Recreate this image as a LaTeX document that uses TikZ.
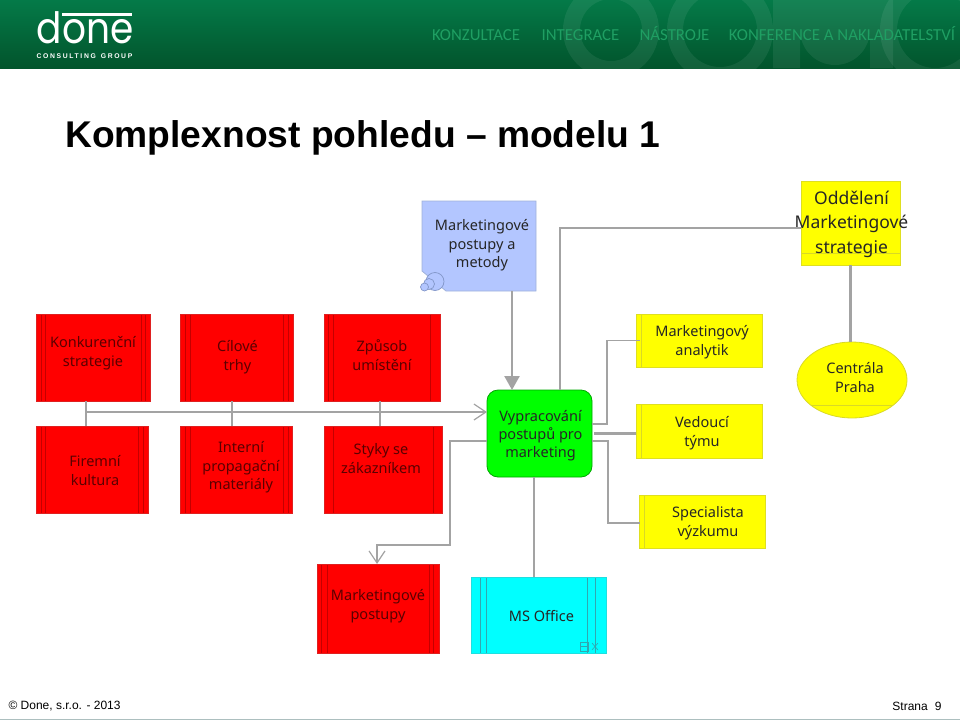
\documentclass[tikz,border=0pt]{standalone}
\usepackage{fontspec}
\setmainfont{Liberation Sans}
\newfontfamily\boxfont{Noto Sans}
\newfontfamily\navfont{Carlito}
\newfontfamily\logofont{Poppins}
\newfontfamily\claimfont[LetterSpace=24]{Liberation Sans}
\usetikzlibrary{arrows.meta,shapes.geometric}

\definecolor{linegrey}{HTML}{A3A3A3}
\definecolor{redline}{HTML}{C40000}
\definecolor{redtext}{HTML}{5A0000}
\definecolor{navgreen}{HTML}{1F9F63}
\definecolor{officecyan}{HTML}{00FFFF}
\definecolor{officeline}{HTML}{30A8B0}
\definecolor{puregreen}{HTML}{00FF00}
\definecolor{pureyellow}{HTML}{FFFF00}
\definecolor{methodblue}{HTML}{B3C6FF}
\definecolor{methodline}{HTML}{A0B2DA}
\definecolor{bubbleline}{HTML}{8296C8}

% text of a box, moved away from the middle of the box
\newcommand{\shifted}[3]{\raisebox{\dimexpr#2pt-5.5pt\relax}[0pt][0pt]{\makebox[0pt]{\hspace*{#1pt}\hspace*{#1pt}\begin{tabular}{@{}c@{}}#3\end{tabular}}}}

\tikzset{
	bars/.style n args={3}{path picture={
		\foreach \d in {#2} \draw [#1] ([xshift=\d]path picture bounding box.north west) -- ([xshift=\d]path picture bounding box.south west);
		\foreach \d in {#3} \draw [#1] ([xshift=-\d]path picture bounding box.north east) -- ([xshift=-\d]path picture bounding box.south east);
	}},
	leftbar/.style={path picture={
		\draw [#1] ([xshift=5]path picture bounding box.north west) -- ([xshift=5]path picture bounding box.south west);
	}},
	lowline/.style 2 args={path picture={
		\draw [#1] ([yshift=#2]path picture bounding box.south west) -- ([yshift=#2]path picture bounding box.south east);
	}}
}

\begin{document}
\begin{tikzpicture}[x=1pt,y=-1pt,>=Stealth]
		\tikzstyle{box}=[rectangle, inner sep=0pt, outer sep=0pt, font=\boxfont\fontsize{14.5}{18.8}\selectfont]
		\tikzstyle{redbox}=[box, fill=red, draw=red!75!gray, line width=0.7pt, text=redtext]
		\tikzstyle{yellowbox}=[box, fill=pureyellow, draw=pureyellow!75!gray, line width=0.8pt, text=black!85, leftbar={pureyellow!70!gray, line width=0.6pt}]
		\tikzstyle{link}=[draw=linegrey, line width=2.4pt]
		\tikzstyle{thin link}=[draw=linegrey, line width=1.2pt]
		\tikzstyle{open head}=[-{Straight Barb[length=12pt,width=16pt,line width=1.2pt]}]

		\useasboundingbox (0,0) rectangle (960,720);

		% header band
		\shade [top color={rgb,255:red,4;green,122;blue,72}, bottom color={rgb,255:red,2;green,84;blue,44}] (0,0) rectangle (960,68);
		\begin{scope}
			\clip (0,0) rectangle (960,68);
			\foreach \cx/\ro/\ri in {611/48/31, 720/53/37, 935/55/38}
				\fill [white, opacity=0.07, even odd rule] (\cx,30) circle (\ro) (\cx,30) circle (\ri);
			\fill [white, opacity=0.07, even odd rule] (773,68) -- (773,0) -- (893,0) -- (893,68) -- cycle (800,68) -- (800,30) arc [start angle=180, end angle=0, radius=35] -- (870,68) -- cycle;
		\end{scope}
		\node [anchor=base, inner sep=0pt] (logo) at (85,43) {\logofont\color{white}\fontsize{37.5}{38}\selectfont\scalebox{1}[1.15]{done}};
		\draw [white, line width=2.2pt] (62,14.5) -- (132,14.5);
		\node [inner sep=0pt] (claim) at (84.5,56.5) {\claimfont\bfseries\color{white}\fontsize{6.8}{7}\selectfont CONSULTING\hspace{5pt}GROUP};
		\foreach \nx/\nname/\ntext in {476/konzultace/KONZULTACE, 580.5/integrace/INTEGRACE, 674.5/nastroje/NÁSTROJE, 842/konference/KONFERENCE A NAKLADATELSTVÍ}
			\node [anchor=base, text=navgreen, font=\navfont\fontsize{16.8}{17}\selectfont] (\nname) at (\nx,40) {\ntext};

		\node [anchor=west, inner sep=0pt, font=\bfseries\fontsize{37.2}{38}\selectfont] (title) at (65,137.5) {Komplexnost pohledu – modelu 1};

		% red boxes
		\node [redbox, minimum width=114pt, minimum height=87pt, bars={redline}{5,9}{9,5}] (konkurencni) at (93,357.5) {\shifted{0}{6.5}{Konkurenční\\strategie}};
		\node [redbox, minimum width=113pt, minimum height=87pt, bars={redline}{5,10}{10,5}] (cilove) at (236.5,357.5) {\shifted{1}{2}{Cílové\\trhy}};
		\node [redbox, minimum width=116pt, minimum height=87pt, bars={redline}{4,9}{10}] (zpusob) at (382,357.5) {\shifted{0}{2}{Způsob\\umístění}};
		\node [redbox, minimum width=112pt, minimum height=87pt, bars={redline}{5,9}{10,5}] (firemni) at (92,469.5) {\shifted{3}{-0.5}{Firemní\\kultura}};
		\node [redbox, minimum width=112pt, minimum height=87pt, bars={redline}{5,10}{9,4}] (interni) at (236,469.5) {\shifted{5}{4}{Interní\\propagační\\materiály}};
		\node [redbox, minimum width=118pt, minimum height=87pt, bars={redline}{9}{9}] (styky) at (383,469.5) {\shifted{-2}{11.5}{Styky se\\zákazníkem}};
		\node [redbox, minimum width=122pt, minimum height=89pt, bars={redline}{4,10}{10,6}] (postupy) at (378,608.5) {\shifted{0}{4}{Marketingové\\postupy}};

		% blue and cyan boxes
		\draw [fill=methodblue, draw=methodline, line width=0.8pt] (422,201) -- (536,201) -- (536,291) -- (446,291) -- (422,271) -- cycle;
		\node [box, minimum width=114pt, minimum height=90pt, text=black!85] (metody) at (479,246) {\shifted{3}{2.5}{Marketingové\\postupy a\\metody}};
		\foreach \bx/\by/\br in {435/281.5/9, 429/284/5.5, 424.5/287/4}
			\draw [fill=methodblue, draw=bubbleline, line width=0.7pt] (\bx,\by) circle (\br);
		\node [box, fill=officecyan, draw=officecyan!75!gray, line width=0.8pt, minimum width=135pt, minimum height=76pt, text=black!85, bars={officeline, line width=0.7pt}{9,15}{19,11}] (office) at (538.5,615) {\shifted{3}{-1}{MS Office}};
		\draw [officeline, line width=0.6pt] (580,642) rectangle (588,651) (580,646.5) -- (588,646.5);
		\draw [officeline, line width=0.6pt] (592,643) -- (598,650) (598,643) -- (592,650);

		% green box
		\node [box, rounded corners=11pt, fill=puregreen, draw=puregreen!65!black, line width=0.8pt, minimum width=105pt, minimum height=87pt, text=black!85, font=\boxfont\fontsize{14.5}{18}\selectfont] (vypracovani) at (539.5,433.5) {\shifted{1}{-0.5}{Vypracování\\postupů pro\\marketing}};

		% yellow boxes
		\node [box, fill=pureyellow, draw=pureyellow!75!gray, line width=0.8pt, minimum width=99pt, minimum height=84pt, text=black!85, font=\boxfont\fontsize{17.5}{24.5}\selectfont, lowline={pureyellow!70!gray, line width=0.6pt}{12}] (oddeleni) at (850.5,223) {\shifted{1}{0.5}{Oddělení\\Marketingové\\strategie}};
		\node [yellowbox, minimum width=126pt, minimum height=53pt] (analytik) at (699,340.5) {\shifted{3}{0}{Marketingový\\analytik}};
		\node [yellowbox, minimum width=126pt, minimum height=54pt] (vedouci) at (699,431) {\shifted{3}{0}{Vedoucí\\týmu}};
		\node [yellowbox, minimum width=126pt, minimum height=53pt] (specialista) at (702,521.5) {\shifted{6}{0}{Specialista\\výzkumu}};
		\node [box, ellipse, fill=pureyellow, draw=pureyellow!70!gray, line width=0.8pt, minimum width=110pt, minimum height=76pt, text=black!85, lowline={pureyellow!70!gray, line width=0.6pt}{13}] (centrala) at (852,380) {\shifted{3}{2.5}{Centrála\\Praha}};

		% bus from the red boxes
		\coordinate (busstart) at (86,412);
		\draw [link] ([xshift=-7]konkurencni.south) -- ([xshift=-7]konkurencni.south |- firemni.north);
		\draw [link] ([xshift=-4.5]cilove.south) -- ([xshift=-4.5]cilove.south |- interni.north);
		\draw [link] ([xshift=-2]zpusob.south) -- ([xshift=-2]zpusob.south |- styky.north);
		\draw [link, open head] (busstart) -- (busstart -| vypracovani.west);

		% connectors of the green box
		\draw [link, -{Triangle[length=14pt,width=15pt]}] ([xshift=33]metody.south) -- ([xshift=33]metody.south |- vypracovani.north);
		\draw [link] ([xshift=20.5]vypracovani.north) |- ([yshift=-5]oddeleni.west);
		\draw [link] (oddeleni.south) -- (oddeleni.south |- centrala.north);
		\draw [link] ([xshift=-5.5]vypracovani.south) -- ([xshift=-5.5]vypracovani.south |- office.north);
		\draw [link] ([xshift=2]vypracovani.east) -- (vypracovani.east -| vedouci.west);
		\draw [thin link] ([yshift=9.5]vypracovani.east) -| ([xshift=-29]analytik.west) |- ([xshift=4]analytik.west);
		\draw [thin link] ([yshift=-7.5]vypracovani.east) -| ([xshift=-31,yshift=-1.5]specialista.west) |- ([xshift=1,yshift=-1.5]specialista.west);
		\coordinate (postupybend) at (450,545);
		\draw [thin link, open head] ([yshift=-7.5]vypracovani.west) -| (postupybend) -| ([xshift=-1]postupy.north);

		% footer
		\draw [teal!30!gray!50, line width=0.8pt] (0,719) -- (960,719);
		\node [anchor=west, font=\fontsize{12}{12}\selectfont] (copyright) at (5,706.5) {© Done, s.r.o. - 2013};
		\node [anchor=east, font=\fontsize{12}{12}\selectfont] (strana) at (945,706.5) {Strana\hspace{7pt}9};
	\end{tikzpicture}
\end{document}
